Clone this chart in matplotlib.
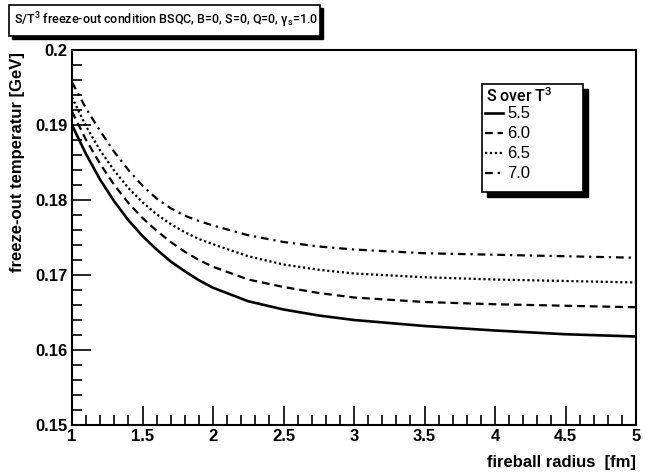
import numpy as np
import matplotlib
matplotlib.use("Agg")
import matplotlib.pyplot as plt
from matplotlib.patches import Rectangle
from matplotlib.ticker import MultipleLocator

plt.rcParams['font.family'] = ['Liberation Sans', 'DejaVu Sans']
plt.rcParams['font.weight'] = 'bold'
plt.rcParams['mathtext.fontset'] = 'custom'
plt.rcParams['mathtext.rm'] = 'Roboto:medium'
plt.rcParams['mathtext.it'] = 'Roboto:medium'

# fireball radius [fm]
radius = [1.0, 1.1, 1.2, 1.3, 1.4, 1.5, 1.6, 1.7, 1.8, 1.9, 2.0,
          2.25, 2.5, 2.75, 3.0, 3.5, 4.0, 4.5, 5.0]

# freeze-out temperature [GeV] for each S/T^3 value
t_55 = [0.1900, 0.1861, 0.1827, 0.1798, 0.1773, 0.1752, 0.1734, 0.1718, 0.1705, 0.1693, 0.1683,
        0.1665, 0.1654, 0.1646, 0.1640, 0.1632, 0.1626, 0.1621, 0.1618]
t_60 = [0.1918, 0.1880, 0.1848, 0.1820, 0.1796, 0.1776, 0.1759, 0.1744, 0.1731, 0.1720, 0.1711,
        0.1694, 0.1684, 0.1676, 0.1670, 0.1664, 0.1661, 0.1659, 0.1657]
t_65 = [0.1937, 0.1898, 0.1866, 0.1839, 0.1816, 0.1797, 0.1781, 0.1768, 0.1757, 0.1748, 0.1741,
        0.1725, 0.1714, 0.1707, 0.1702, 0.1697, 0.1694, 0.1692, 0.1690]
t_70 = [0.1957, 0.1922, 0.1892, 0.1864, 0.1840, 0.1819, 0.1802, 0.1789, 0.1779, 0.1772, 0.1766,
        0.1753, 0.1744, 0.1738, 0.1734, 0.1729, 0.1727, 0.1725, 0.1723]

labels = ['5.5', '6.0', '6.5', '7.0']
styles = ['-', (0, (3.5, 2.2)), (0, (1, 1.2)), (0, (3.5, 2.2, 1, 2.2))]
widths = [1.9, 1.6, 1.6, 1.6]

W, H = 649, 475
fig = plt.figure(figsize=(W / 100, H / 100), dpi=100)
ax = fig.add_axes([72 / W, 1 - 425 / H, (636 - 72) / W, (425 - 50) / H])

for t, lab, ls, lw in zip([t_55, t_60, t_65, t_70], labels, styles, widths):
    ax.plot(radius, t, color='black', lw=lw, linestyle=ls, label=lab)

ax.set_xlim(1, 5)
ax.set_ylim(0.15, 0.2)
ax.xaxis.set_minor_locator(MultipleLocator(0.1))
ax.yaxis.set_minor_locator(MultipleLocator(0.002))
ax.set_xticks([1, 1.5, 2, 2.5, 3, 3.5, 4, 4.5, 5])
ax.set_xticklabels(['1', '1.5', '2', '2.5', '3', '3.5', '4', '4.5', '5'])
ax.set_yticks([0.15, 0.16, 0.17, 0.18, 0.19, 0.2])
ax.set_yticklabels(['0.15', '0.16', '0.17', '0.18', '0.19', '0.2'])
ax.tick_params(which='both', direction='in', top=False, right=False, labelsize=12, width=1.2)
ax.tick_params(which='major', length=14)
ax.tick_params(which='minor', length=7)
ax.tick_params(axis='x', pad=3)
for s in ax.spines.values():
    s.set_linewidth(1.5)

fig.text(636 / W, 1 - 463 / H, 'fireball radius  [fm]', ha='right', va='center', fontsize=12)
fig.text(18 / W, 1 - 52 / H, 'freeze-out temperatur [GeV]', ha='center', va='top',
         rotation=90, fontsize=12)


def shadow_box(x0, y0, x1, y1, off=4):
    # pixel coords, y measured from top
    fig.patches.append(Rectangle(((x0 + off) / W, 1 - (y1 + off) / H), (x1 - x0) / W, (y1 - y0) / H,
                                 transform=fig.transFigure, facecolor='black', edgecolor='black',
                                 zorder=5))
    fig.patches.append(Rectangle((x0 / W, 1 - y1 / H), (x1 - x0) / W, (y1 - y0) / H,
                                 transform=fig.transFigure, facecolor='white', edgecolor='black',
                                 lw=1.2, zorder=6))


# title box
shadow_box(9, 5, 320, 36, off=3)
title = fig.text(166 / W, 1 - 20 / H,
                 r'S/T$^{3}$ freeze-out condition BSQC, B=0, S=0, Q=0, $\gamma_{s}$=1.0',
                 ha='center', va='center', fontsize=11, family='Roboto', weight='medium', zorder=10)
# shrink the title so it fits inside its box like the original
renderer = fig.canvas.get_renderer()
tw = title.get_window_extent(renderer).width
title.set_fontsize(11 * 302 / tw)

# legend box
shadow_box(482, 84, 583, 192, off=5)
fig.text(486 / W, 1 - 96 / H, r'S over T$^{3}$', ha='left', va='center', fontsize=11.5,
         family='Roboto', weight='medium', zorder=10)
handles, _ = ax.get_legend_handles_labels()
leg = fig.legend(handles, labels, loc='upper left', bbox_to_anchor=(482 / W, 1 - 104 / H),
                 frameon=False, prop={'size': 12, 'weight': 'normal'}, handlelength=1.1,
                 handletextpad=0.25, labelspacing=0.3, borderaxespad=0, borderpad=0.15)
leg.set_zorder(10)

fig.savefig('out.png', dpi=100)
